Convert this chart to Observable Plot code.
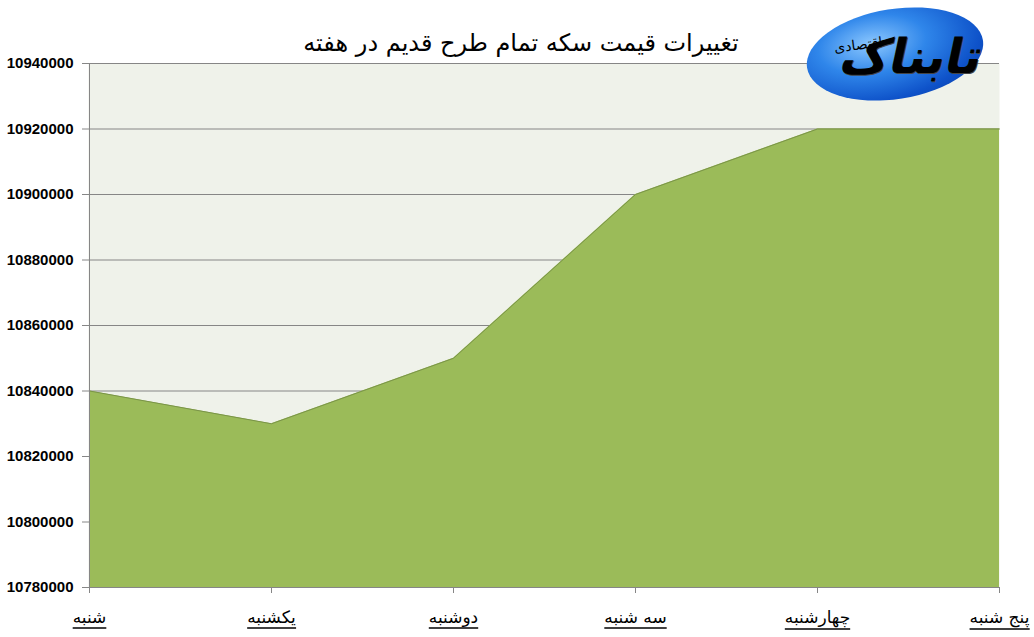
<!DOCTYPE html>
<html>
<head>
<meta charset="utf-8">
<script src="https://cdn.jsdelivr.net/npm/d3@7"></script>
<script src="https://cdn.jsdelivr.net/npm/@observablehq/plot@0.6"></script>
<style>
  html, body { margin: 0; padding: 0; background: #ffffff; }
  #wrap { position: relative; width: 1034px; height: 637px; overflow: hidden; }
  #chart svg { display: block; }
  #logo {
    position: absolute; left: 806px; top: 9px; width: 178px; height: 90px;
    border-radius: 50%;
    background: radial-gradient(ellipse at 38% 35%, #8cc8ff 0%, #2f86ea 35%, #0e52c9 70%, #0a3a9a 100%);
    transform: rotate(-9deg);
  }
  #logo .big {
    position: absolute; right: 2px; top: 26px; z-index: 1;
    font-family: "DejaVu Sans", sans-serif; font-weight: bold; font-size: 48px;
    color: #000; direction: rtl; transform: rotate(9deg) skewX(-12deg);
    text-shadow: 1px 1px 0 #444; line-height: 1;
  }
  #logo .small {
    position: absolute; left: 30px; top: 22px; z-index: 2;
    font-family: "DejaVu Sans", sans-serif; font-size: 14px; color: #000;
    direction: rtl; transform: rotate(2deg);
  }
</style>
</head>
<body>
<div id="wrap">
  <div id="chart"></div>
  <div id="logo"><span class="big">تابناک</span><span class="small">اقتصادی</span></div>
</div>
<script>
const days = ["شنبه", "یکشنبه", "دوشنبه", "سه شنبه", "چهارشنبه", "پنج شنبه"];
const prices = [10840000, 10830000, 10850000, 10900000, 10920000, 10920000];
const yTicks = [10780000, 10800000, 10820000, 10840000, 10860000, 10880000, 10900000, 10920000, 10940000];
const title = "تغییرات قیمت سکه تمام طرح قدیم در هفته";

const yMin = yTicks[0];
const yMax = yTicks[yTicks.length - 1];
const data = days.map((d, i) => ({day: d, value: prices[i]}));

const chart = Plot.plot({
  width: 1034,
  height: 637,
  marginLeft: 88,
  marginRight: 35,
  marginTop: 63,
  marginBottom: 50,
  style: {background: "#ffffff", overflow: "visible"},
  x: {type: "point", domain: days, padding: 0},
  y: {domain: [yMin, yMax]},
  marks: [
    Plot.frame({fill: "#eff2ea", stroke: null}),
    Plot.gridY(yTicks, {stroke: "#868686", strokeOpacity: 1, strokeWidth: 1}),
    Plot.areaY(data, {x: "day", y1: yMin, y2: "value", fill: "#9bbb59", fillOpacity: 1}),
    Plot.lineY(data, {x: "day", y: "value", stroke: "#7a9448", strokeWidth: 1}),
    Plot.ruleX([days[0]], {stroke: "#868686"}),
    Plot.ruleY([yMin], {stroke: "#868686"}),
    Plot.axisY({
      ticks: yTicks, tickFormat: d => String(d), tickSize: 6, tickPadding: 9,
      stroke: "#868686", fill: "#000", fontSize: 15, fontWeight: "bold",
      fontFamily: "Liberation Sans, Arial, sans-serif", label: null
    }),
    Plot.axisX({
      tickSize: 6, tickPadding: 17, stroke: "#868686", fill: "#000",
      fontSize: 17, fontFamily: "DejaVu Sans, sans-serif", label: null
    }),
    Plot.text([title], {
      frameAnchor: "top", dy: -30, dx: -23, fontSize: 24, fill: "#000",
      fontFamily: "DejaVu Sans, sans-serif"
    })
  ]
});
document.getElementById("chart").appendChild(chart);

// underline the x tick labels below their glyphs
const ns = "http://www.w3.org/2000/svg";
chart.querySelectorAll('g[aria-label="x-axis tick label"] text').forEach(t => {
  const b = t.getBBox();
  const line = document.createElementNS(ns, "line");
  line.setAttribute("x1", b.x);
  line.setAttribute("x2", b.x + b.width);
  line.setAttribute("y1", b.y + b.height + 1.5);
  line.setAttribute("y2", b.y + b.height + 1.5);
  line.setAttribute("stroke", "#000");
  line.setAttribute("stroke-width", "1.5");
  const tr = t.getAttribute("transform");
  if (tr) line.setAttribute("transform", tr);
  t.parentNode.appendChild(line);
});
</script>
</body>
</html>
